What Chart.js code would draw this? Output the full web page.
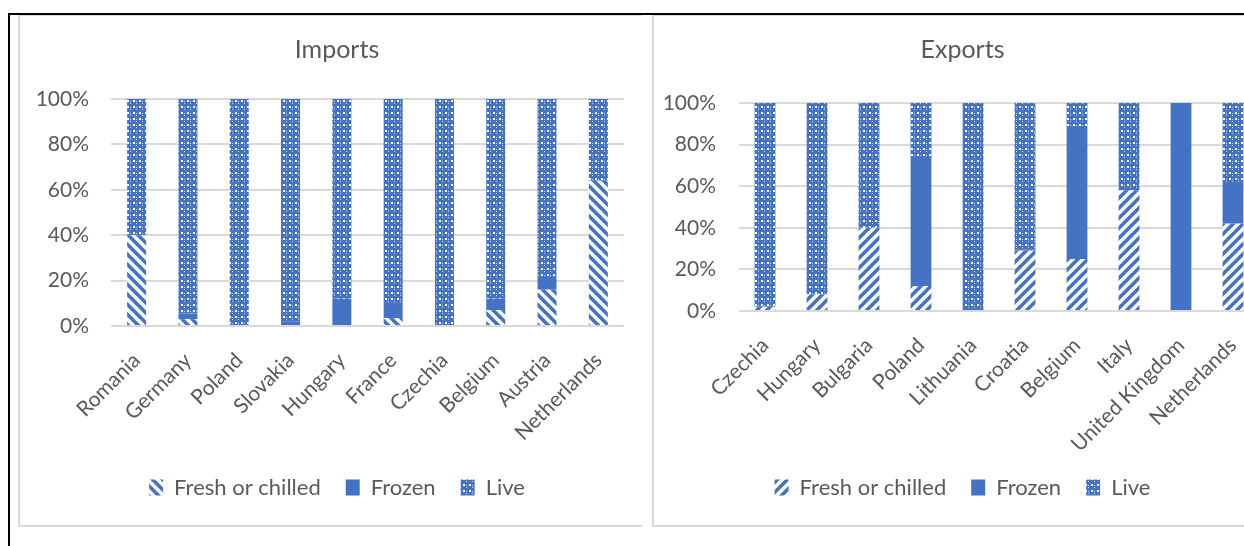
<!DOCTYPE html>
<html>
<head>
<meta charset="utf-8">
<script src="https://cdn.jsdelivr.net/npm/chart.js@4.4.1/dist/chart.umd.min.js"></script>
<style>
  body { margin: 0; background: #fff; overflow: hidden; width: 1244px; height: 546px; position: relative; }
  .line { position: absolute; background: #000; }
  .panel { position: absolute; box-sizing: border-box; border-left: 2px solid #d9d9d9; border-top: 1px solid #d9d9d9; border-bottom: 2px solid #d9d9d9; }
  canvas { position: absolute; }
</style>
</head>
<body>
<div class="line" style="left:8px;top:13px;width:1236px;height:2px"></div>
<div class="line" style="left:8px;top:13px;width:2px;height:533px"></div>
<div class="panel" style="left:18px;top:15px;width:624px;height:512px"></div>
<div class="panel" style="left:652px;top:15px;width:600px;height:512px"></div>
<canvas id="imports" width="624" height="510" style="left:18px;top:15px"></canvas>
<canvas id="exports" width="626" height="510" style="left:652px;top:15px"></canvas>
<script>
// shares in percent
var importCountries = ['Romania', 'Germany', 'Poland', 'Slovakia', 'Hungary', 'France', 'Czechia', 'Belgium', 'Austria', 'Netherlands'];
var importFresh  = [40, 3,   0,   0,  0,  3.5,  0,   7, 16, 64];
var importFrozen = [0,  2.5, 0,   2,  12, 7,    0,   5,  6,  0];
var importLive   = [60, 94.5, 100, 98, 88, 89.5, 100, 88, 78, 36];

var exportCountries = ['Czechia', 'Hungary', 'Bulgaria', 'Poland', 'Lithuania', 'Croatia', 'Belgium', 'Italy', 'United Kingdom', 'Netherlands'];
var exportFresh  = [2,  8,  40, 12, 0,   29,   25, 58, 0,   42];
var exportFrozen = [0,  0,  0,  62, 0,   0.5,  64, 0,  100, 20];
var exportLive   = [98, 92, 60, 26, 100, 70.5, 11, 42, 0,   38];

var yTicks = [0, 20, 40, 60, 80, 100];
var seriesNames = ['Fresh or chilled', 'Frozen', 'Live'];

var BLUE = '#4472C4';
var GREY = '#595959';
var FONT = 'Lato, "Liberation Sans", sans-serif';

function stripes(dir) {
    var c = document.createElement('canvas');
    c.width = c.height = 10;
    var g = c.getContext('2d');
    g.fillStyle = '#fff';
    g.fillRect(0, 0, 10, 10);
    g.strokeStyle = BLUE;
    g.lineWidth = 3.6;
    g.beginPath();
    if (dir === 'down') {
        g.moveTo(-5, -5); g.lineTo(15, 15);
        g.moveTo(-5, 5); g.lineTo(5, 15);
        g.moveTo(5, -5); g.lineTo(15, 5);
    } else {
        g.moveTo(-5, 15); g.lineTo(15, -5);
        g.moveTo(-5, 5); g.lineTo(5, -5);
        g.moveTo(5, 15); g.lineTo(15, 5);
    }
    g.stroke();
    return g.createPattern(c, 'repeat');
}

function lattice() {
    var c = document.createElement('canvas');
    c.width = c.height = 6;
    var g = c.getContext('2d');
    g.fillStyle = BLUE;
    g.fillRect(0, 0, 6, 6);
    g.fillStyle = '#fff';
    g.fillRect(1, 1, 2, 2);
    g.fillStyle = 'rgba(255,255,255,0.7)';
    g.fillRect(4, 4, 1, 1);
    g.fillRect(4, 2, 1, 1);
    return g.createPattern(c, 'repeat');
}

// the y labels hang left of the padded area; let them draw there
var labelRoom = {
    id: 'labelRoom',
    afterLayout: function (chart) { chart.scales.y.left = 0; }
};

function makeChart(id, title, labels, fresh, frozen, live, freshFill, opt) {
    var ctx = document.getElementById(id).getContext('2d');
    var fills = [freshFill, BLUE, lattice()];
    var values = [fresh, frozen, live];
    var datasets = [];
    for (var i = 0; i < 3; i++) {
        datasets.push({
            label: seriesNames[i],
            data: values[i],
            backgroundColor: fills[i],
            borderWidth: 0,
            categoryPercentage: 1,
            barPercentage: opt.bar
        });
    }
    return new Chart(ctx, {
        type: 'bar',
        data: { labels: labels, datasets: datasets },
        plugins: [labelRoom],
        options: {
            responsive: false,
            animation: false,
            layout: { padding: { left: opt.left, right: opt.right, top: 0, bottom: 16.5 } },
            plugins: {
                title: {
                    display: true,
                    text: title,
                    color: GREY,
                    font: { family: FONT, size: 25, weight: 'normal' },
                    padding: { top: 20, bottom: opt.titleBottom }
                },
                legend: {
                    position: 'bottom',
                    labels: {
                        color: GREY,
                        font: { family: FONT, size: 22 },
                        boxWidth: 14,
                        boxHeight: 16,
                        padding: 25
                    }
                },
                tooltip: { enabled: false }
            },
            scales: {
                x: {
                    stacked: true,
                    grid: { display: false },
                    border: { display: false },
                    ticks: {
                        color: GREY,
                        font: { family: FONT, size: 21 },
                        minRotation: 45,
                        maxRotation: 45,
                        autoSkip: false,
                        padding: 14
                    },
                    afterFit: function (s) { s.height = opt.xHeight; }
                },
                y: {
                    stacked: true,
                    min: 0,
                    max: 100,
                    afterBuildTicks: function (s) { s.ticks = yTicks.map(function (v) { return { value: v }; }); },
                    grid: { color: '#d9d9d9', lineWidth: 2, drawTicks: false },
                    border: { display: false },
                    ticks: {
                        color: GREY,
                        font: { family: FONT, size: 21 },
                        padding: opt.yPad,
                        callback: function (v) { return v + '%'; }
                    },
                    afterFit: function (s) { s.width = opt.yWidth; }
                }
            }
        }
    });
}

// legend bottom: 25 + 22 + 10 = 57 high, text middle at 473 of the canvas
makeChart('imports', 'Imports', importCountries, importFresh, importFrozen, importLive, stripes('down'),
    { bar: 0.37, left: 32, right: 18, titleBottom: 34, xHeight: 125.5, yWidth: 61, yPad: 22 });
makeChart('exports', 'Exports', exportCountries, exportFresh, exportFrozen, exportLive, stripes('up'),
    { bar: 0.4, left: 14, right: 19, titleBottom: 38, xHeight: 140.5, yWidth: 73, yPad: 23 });
</script>
</body>
</html>
